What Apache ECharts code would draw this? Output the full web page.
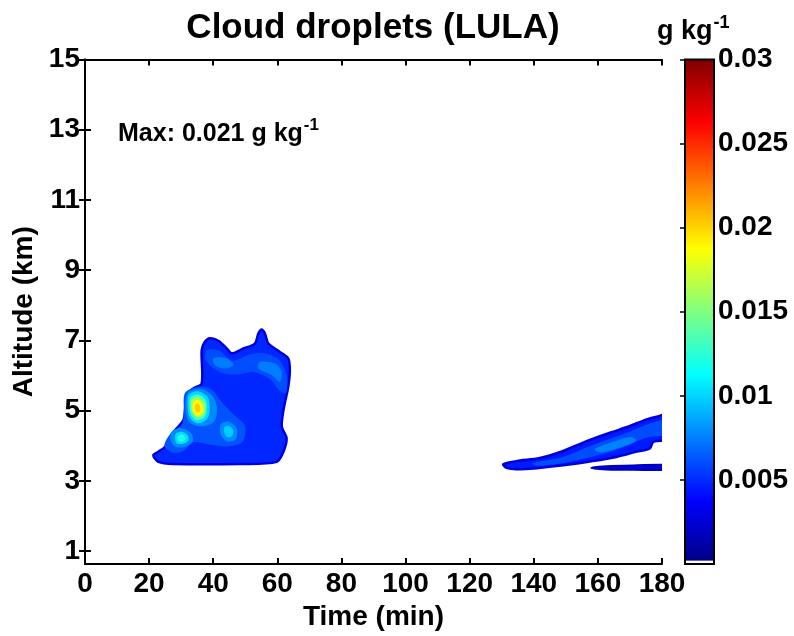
<!DOCTYPE html>
<html>
<head>
<meta charset="utf-8">
<script src="https://cdn.jsdelivr.net/npm/echarts@6/dist/echarts.min.js"></script>
<style>
html,body{margin:0;padding:0;background:#fff;}
#chart{width:794px;height:636px;}
</style>
</head>
<body>
<div id="chart"></div>
<script>
// ---------- axis / colour-bar values ----------
const timeMin = 0, timeMax = 180, timeStep = 20;
const altMin = 0.63, altMax = 15;
const altTicks = [1, 3, 5, 7, 9, 11, 13, 15];
const cbarMax = 0.03;
const cbarLow = 0.0002;          // lowest filled level (white below)
const cbarTicks = [0.005, 0.01, 0.015, 0.02, 0.025, 0.03];

// ---------- contour polygons [time (min), altitude (km)] ----------
// Cloud A (20-64 min)
const cloudA_outline = [[21.3,3.73],[22.9,3.54],[27.5,3.48],[48.3,3.48],[59.8,3.54],[61.9,3.83],[62.9,4.21],[61.4,4.54],[61.9,5.01],[63.4,5.68],[63.9,6.15],[63.4,6.49],[60.8,6.67],[57.2,6.91],[56.1,7.2],[55.1,7.31],[54.1,7.2],[53.0,6.91],[49.4,6.77],[45.8,6.63],[44.2,6.77],[41.6,6.99],[39.0,7.06],[37.4,6.96],[36.4,6.72],[36.4,5.77],[33.8,5.63],[31.7,5.44],[31.2,5.01],[30.7,4.73],[28.1,4.44],[26.5,4.25],[25.0,3.97],[22.9,3.83]];
const cloudA_lightLower = [[31.2,5.5],[35.3,5.68],[39.5,5.6],[42.5,5.25],[46.8,4.85],[50.0,4.55],[49.0,4.1],[44.2,3.98],[38.0,4.05],[33.8,4.1],[30.7,3.85],[27.5,3.8],[24.8,4.0],[26.5,4.32],[30.2,4.6],[30.8,4.95]];
const cloudA_lightUpper = [[38.0,6.72],[42.1,6.7],[45.8,6.42],[51.5,6.6],[56.7,6.62],[60.8,6.42],[63.0,5.96],[62.6,5.5],[60.3,5.6],[57.7,5.9],[52.5,6.1],[47.3,6.02],[43.1,6.06],[39.5,6.25],[37.6,6.45]];
const cloudA_patchUL = [[40.0,6.49],[44.2,6.49],[46.3,6.30],[43.7,6.20],[40.5,6.30]];
const cloudA_patchUR = [[54.6,6.39],[59.3,6.34],[61.4,6.11],[60.8,5.82],[58.2,6.01],[54.1,6.20]];
const peak_r1 = [[32.2,5.52],[35.9,5.62],[39.5,5.45],[41.2,5.06],[40.2,4.68],[36.4,4.55],[32.8,4.65],[31.3,5.06]];
const peak_r2 = [[32.4,5.45],[35.2,5.55],[38.3,5.38],[38.9,5.0],[37.9,4.74],[35.0,4.64],[32.8,4.78],[32.0,5.1]];
const peak_r3 = [[32.9,5.37],[35.2,5.46],[37.6,5.3],[38.0,5.0],[37.2,4.8],[35.0,4.72],[33.3,4.84],[32.6,5.1]];
const peak_r4 = [[33.3,5.3],[35.2,5.38],[37.1,5.23],[37.4,4.99],[36.7,4.85],[35.0,4.8],[33.7,4.9],[33.1,5.1]];
const peak_r5 = [[33.7,5.24],[35.2,5.31],[36.6,5.16],[36.9,4.99],[36.2,4.89],[35.0,4.86],[34.0,4.94],[33.6,5.09]];
const peak_r6 = [[34.4,5.16],[35.3,5.2],[36.0,5.08],[35.7,4.96],[34.8,4.96],[34.3,5.06]];
const spotL_r1 = [[27.0,4.4],[30.0,4.5],[33.2,4.35],[33.6,4.12],[31.0,3.96],[28.0,3.98],[26.6,4.18]];
const spotL_r2 = [[28.2,4.32],[30.2,4.4],[32.1,4.29],[32.2,4.14],[30.3,4.05],[28.5,4.08]];
const spotL_r3 = [[29.0,4.27],[30.3,4.32],[31.4,4.22],[30.5,4.11],[29.2,4.14]];
const spotR_r1 = [[42.4,4.62],[45.0,4.68],[47.4,4.47],[47.0,4.18],[44.5,4.12],[42.4,4.3]];
const spotR_r2 = [[43.5,4.53],[45.0,4.56],[46.2,4.44],[45.9,4.28],[44.5,4.24],[43.5,4.36]];
// Cloud B (130-180 min)
const cloudB_outline = [[130.5,3.47],[134.6,3.56],[141.9,3.65],[149.2,3.85],[156.5,4.13],[163.8,4.37],[170.0,4.56],[175.2,4.75],[179.0,4.84],[183,4.92],[183,4.2],[177.3,4.11],[176.2,3.92],[172.1,3.83],[165.8,3.68],[157.5,3.55],[149.2,3.44],[140.9,3.36],[134.6,3.33],[131.5,3.37]];
const cloudB_light = [[139.5,3.5],[149.2,3.68],[156.5,3.95],[163.8,4.2],[170.0,4.4],[176.2,4.63],[183,4.76],[183,4.36],[175.2,4.23],[170.0,4.03],[163.8,3.83],[156.5,3.65],[149.2,3.51],[141.0,3.43]];
const cloudB_patch = [[159.0,3.9],[164.8,4.11],[170.0,4.25],[172.0,4.15],[167.0,3.95],[161.0,3.81]];
const cloudB_thin = [[158.0,3.37],[162.7,3.41],[171.0,3.43],[183,3.44],[183,3.33],[171.0,3.32],[162.7,3.33]];

// filled contour layers: level (g/kg) of each polygon, drawn in order
const contourShapes = [cloudA_outline, cloudA_lightLower, cloudA_lightUpper, cloudA_patchUL, cloudA_patchUR,
  peak_r1, peak_r2, peak_r3, peak_r4, peak_r5, peak_r6,
  spotL_r1, spotL_r2, spotL_r3, spotR_r1, spotR_r2,
  cloudB_outline, cloudB_light, cloudB_patch, cloudB_thin];
const contourLevels = [0.0049, 0.0062, 0.006, 0.0074, 0.0074,
  0.0078, 0.0102, 0.0132, 0.0162, 0.0188, 0.0203,
  0.0078, 0.0103, 0.0122, 0.0078, 0.0098,
  0.0045, 0.006, 0.0076, 0.0028];
const contourRims = [0.0028, null, null, null, null,
  null, null, null, null, null, null,
  null, null, null, null, null,
  0.0026, null, null, 0.002];

// ---------- helpers ----------
function jetRGB(f) {
  const c = x => Math.round(255 * Math.max(0, Math.min(1, 1.5 - Math.abs(4 * f - x))));
  return 'rgb(' + c(3) + ',' + c(2) + ',' + c(1) + ')';
}
function jetColor(v) { return jetRGB(Math.max(0, Math.min(1, v / cbarMax))); }

const FONT = '"Liberation Sans", Arial, Helvetica, sans-serif';
const lab = { fontFamily: FONT, fontWeight: 'bold', fontSize: 28, color: '#000' };
const nameStyle = { fontFamily: FONT, fontWeight: 'bold', fontSize: 28, color: '#000' };

const chart = echarts.init(document.getElementById('chart'), null, { renderer: 'canvas' });

const jetStops = [1, 0.875, 0.625, 0.375, 0.125, 0].map(f => ({ offset: 1 - f, color: jetRGB(f) }));

const option = {
  backgroundColor: '#fff',
  animation: false,
  grid: [
    { left: 85, top: 59.5, width: 577, height: 504.5 },
    { left: 685, top: 59.5, width: 29, height: 504.5 }
  ],
  xAxis: [
    { type: 'value', gridIndex: 0, min: timeMin, max: timeMax, interval: timeStep, position: 'bottom',
      axisLine: { lineStyle: { color: '#000', width: 2 } },
      axisTick: { inside: true, length: 6, lineStyle: { color: '#000', width: 2 } },
      axisLabel: Object.assign({ margin: 6 }, lab),
      splitLine: { show: false },
      name: 'Time (min)', nameLocation: 'middle', nameGap: 30, nameTextStyle: nameStyle },
    { type: 'value', gridIndex: 0, min: timeMin, max: timeMax, interval: timeStep, position: 'top',
      axisLine: { lineStyle: { color: '#000', width: 2 } },
      axisTick: { inside: true, length: 6, lineStyle: { color: '#000', width: 2 } },
      axisLabel: { show: false }, splitLine: { show: false } },
    { type: 'value', gridIndex: 1, min: 0, max: 1, show: false }
  ],
  yAxis: [
    { type: 'value', gridIndex: 0, min: altMin, max: altMax, position: 'left',
      axisLine: { lineStyle: { color: '#000', width: 2 } },
      axisTick: { inside: true, length: 6, customValues: altTicks, lineStyle: { color: '#000', width: 2 } },
      axisLabel: Object.assign({ margin: 5, customValues: altTicks }, lab),
      splitLine: { show: false },
      name: 'Altitude (km)', nameLocation: 'middle', nameGap: 44, nameTextStyle: nameStyle },
    { type: 'value', gridIndex: 0, min: altMin, max: altMax, position: 'right',
      axisLine: { lineStyle: { color: '#000', width: 2 } },
      axisTick: { inside: true, length: 6, customValues: altTicks, lineStyle: { color: '#000', width: 2 } },
      axisLabel: { show: false }, splitLine: { show: false } },
    { type: 'value', gridIndex: 1, min: 0, max: cbarMax, position: 'right',
      axisLine: { show: false },
      axisTick: { inside: true, length: 5, customValues: cbarTicks, lineStyle: { color: '#000', width: 1.5 } },
      axisLabel: Object.assign({ margin: 4, customValues: cbarTicks,
        formatter: v => String(+v.toFixed(3)) }, lab),
      splitLine: { show: false } }
  ],
  series: [
    {
      type: 'custom', xAxisIndex: 0, yAxisIndex: 0, clip: true,
      data: contourLevels.map((lv, i) => [i, lv]),
      renderItem: function (params, api) {
        const i = params.dataIndex;
        const pts = contourShapes[i].map(p => api.coord(p));
        const rim = contourRims[i];
        return {
          type: 'polygon',
          shape: { points: pts, smooth: 0.3 },
          style: {
            fill: jetColor(contourLevels[i]),
            stroke: rim ? jetColor(rim) : null,
            lineWidth: rim ? 2.5 : 0
          }
        };
      }
    },
    {
      type: 'custom', xAxisIndex: 2, yAxisIndex: 2,
      data: [[0, cbarLow, cbarMax]],
      renderItem: function (params, api) {
        const b = api.coord([0, 0]);
        const t = api.coord([1, cbarMax]);
        const l = api.coord([1, cbarLow]);
        return {
          type: 'group',
          children: [
            { type: 'rect', shape: { x: b[0], y: t[1], width: t[0] - b[0], height: b[1] - t[1] },
              style: { fill: new echarts.graphic.LinearGradient(0, 0, 0, 1, jetStops) } },
            { type: 'rect', shape: { x: b[0], y: l[1], width: t[0] - b[0], height: b[1] - l[1] },
              style: { fill: '#fff' } },
            { type: 'rect', shape: { x: b[0], y: t[1], width: t[0] - b[0], height: b[1] - t[1] },
              style: { fill: null, stroke: '#000', lineWidth: 2 } }
          ]
        };
      }
    }
  ],
  graphic: [
    { type: 'text', x: 373, y: 28,
      style: { text: 'Cloud droplets (LULA)', font: 'bold 35px ' + FONT, fill: '#000', textAlign: 'center', textVerticalAlign: 'middle' } },
    { type: 'text', x: 118, y: 117,
      style: { text: '{a|Max: 0.021 g kg}{s|-1}', fill: '#000',
        rich: { a: { font: 'bold 25px ' + FONT, fill: '#000' },
                s: { font: 'bold 17px ' + FONT, fill: '#000', padding: [0, 0, 17, 1] } } } },
    { type: 'text', x: 657, y: 14,
      style: { text: '{a|g kg}{s|-1}', fill: '#000',
        rich: { a: { font: 'bold 27px ' + FONT, fill: '#000' },
                s: { font: 'bold 18px ' + FONT, fill: '#000', padding: [0, 0, 18, 1] } } } }
  ]
};
chart.setOption(option);
</script>
</body>
</html>
